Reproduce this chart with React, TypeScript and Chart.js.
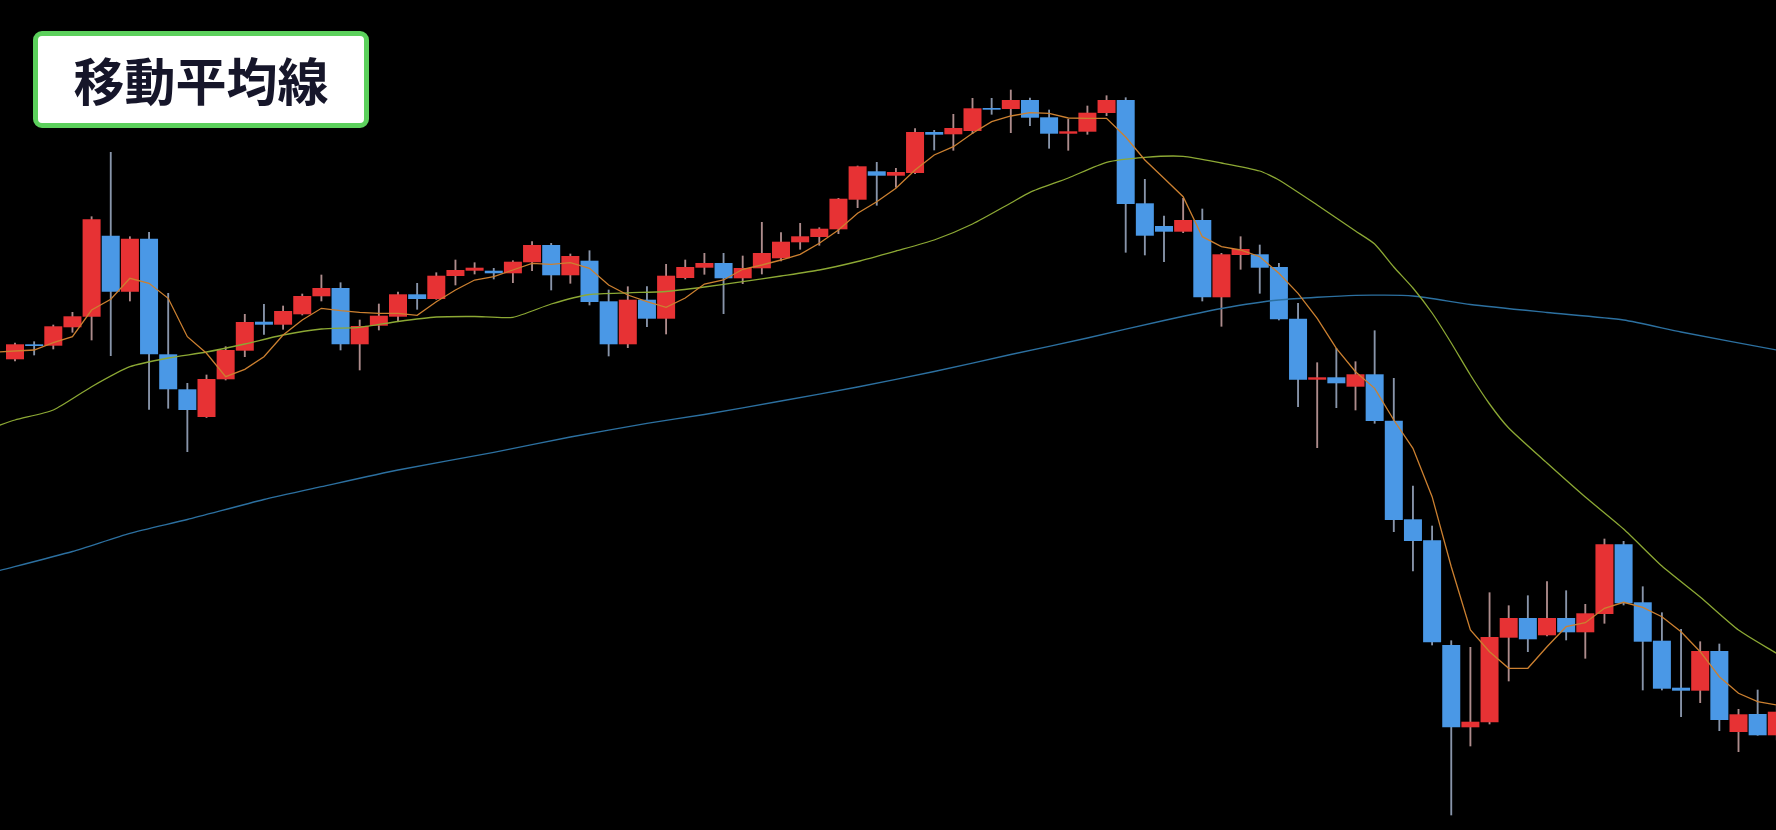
import React, { useEffect, useRef } from "react";
import { Chart, registerables } from "chart.js";

Chart.register(...registerables);

// ---- candle data (index 0..92) ----
const opens = [
  470.7, 485.7, 484.3, 502.7, 513.3, 594.3, 538.3, 591.3, 475.7, 440.7,
  413, 450.7, 479.3, 508.3, 505.3, 515.7, 533.7, 542, 485.7, 504.3,
  513.3, 535.7, 531, 554, 559.3, 559.3, 556.7, 567.7, 585, 554.7,
  569.3, 528.7, 485.7, 530.3, 511.3, 552, 562.3, 567, 551.7, 561.7,
  571.7, 587.7, 593, 600.7, 630.3, 658.7, 654.3, 657, 698, 695.7,
  699, 722, 721, 730, 712.7, 696.3, 698.3, 717, 730, 626.7,
  604, 598.3, 610, 532.7, 575, 575.7, 563, 511.3, 450.3, 452.7,
  443.3, 455.7, 409.3, 310.7, 289.7, 185, 102.7, 107.7, 192.3, 212,
  194.7, 212, 197.7, 216, 285.7, 227.7, 189.3, 142.3, 139.3, 179,
  98, 116, 94.7,
];
const highs = [
  487, 488.3, 505, 517.7, 613.3, 677.7, 593.3, 597.7, 536.7, 446.7,
  455, 483.3, 515.7, 525.7, 524, 536, 555, 547.3, 510, 526,
  538, 546.7, 557.3, 570, 567.3, 561.7, 569.3, 588.3, 586.7, 576,
  579.3, 540, 543.3, 543.3, 565.7, 570, 576.7, 576.7, 574, 607.7,
  597.3, 606.7, 602.3, 631.7, 664, 667.7, 661.7, 701.3, 699.7, 715.7,
  731.7, 731.7, 740, 732, 720, 710.7, 724, 734.3, 732.3, 650.7,
  614, 631.7, 621, 576.7, 593.3, 585, 566.7, 526.7, 467.3, 481.7,
  468.3, 499.3, 451.7, 344, 304, 189.3, 182.7, 237.3, 224.3, 234.3,
  248.3, 239.3, 225.7, 291, 288.7, 243.3, 217.3, 200.7, 188.3, 186,
  120.7, 140, 124,
];
const lows = [
  469, 475, 481, 497.7, 490, 474.3, 529, 420.7, 421.7, 378.3,
  412.5, 450, 473.3, 495.7, 500.7, 515, 529, 480, 460, 500,
  508.3, 520.7, 530.7, 545, 556, 551, 547.3, 559.3, 540, 546.7,
  525, 474, 482.3, 503.3, 496, 551, 555.7, 516.3, 546.3, 556,
  569, 580.7, 584.7, 596.3, 622.3, 624.7, 642.7, 656.3, 680, 679.7,
  696.3, 715.7, 697.3, 704.3, 681.7, 679.7, 695.7, 714.3, 577.7, 575,
  568.3, 597.3, 529, 503.7, 560.7, 536.7, 510, 423.3, 382.3, 422.3,
  420, 406.7, 298.3, 259, 185, 15, 84, 106, 149, 178.3,
  194, 190, 171.7, 206.7, 225, 140, 140, 113.3, 127.3, 99.3,
  78.3, 94.7, 90,
];
const closes = [
  485.7, 484, 503.7, 513.7, 610.7, 538.3, 591.3, 475.7, 440.7, 420,
  451, 480, 508, 505.3, 519, 534, 542, 485.7, 504, 514.3,
  535.7, 531, 554.3, 560, 562.3, 556.7, 568.3, 585, 554.7, 574,
  528, 485.7, 530.3, 511.3, 554.3, 563, 567, 551.7, 562, 577,
  588.3, 593.7, 601.3, 631.3, 663.7, 654.3, 658, 698, 695.3, 702,
  721.7, 720.3, 730, 712.3, 696.3, 698.7, 717.3, 730, 626, 594.3,
  598.3, 610, 532.7, 575.7, 581, 562.3, 510.7, 450.3, 452.7, 446.7,
  455.7, 409, 310, 289, 187.7, 102.7, 108.3, 193, 212, 190.7,
  212, 197.7, 216.7, 285.7, 226.7, 188.3, 141.3, 139.3, 179, 110,
  115.7, 94.7, 118.3,
];

// ---- short moving average (index -1..92) ----
const maShortIdx = [
  -1, 0, 1, 2, 3, 4, 5, 6, 7, 8, 9, 10, 11, 12, 13, 14, 15, 16, 17, 18, 19,
  20, 21, 22, 23, 24, 25, 26, 27, 28, 29, 30, 31, 32, 33, 34, 35, 36, 37, 38,
  39, 40, 41, 42, 43, 44, 45, 46, 47, 48, 49, 50, 51, 52, 53, 54, 55, 56, 57,
  58, 59, 60, 61, 62, 63, 64, 65, 66, 67, 68, 69, 70, 71, 72, 73, 74, 75, 76,
  77, 78, 79, 80, 81, 82, 83, 84, 85, 86, 87, 88, 89, 90, 91, 92,
];
const maShort = [
  478, 479, 480, 487.3, 493.3, 520, 530.7, 551.7, 546.7, 531.7, 493.3, 476.7,
  453.3, 460.7, 473.3, 495, 510, 521.7, 519.3, 517.7, 516.7, 516.7, 514.7,
  528.3, 540, 550, 553.3, 560, 566.7, 565.7, 567.3, 561.7, 545, 535, 528.3,
  522.7, 532, 546, 550, 560.7, 565, 570, 575.7, 586.7, 600, 616.7, 628.3,
  641.7, 660, 675, 683.3, 696.7, 708.3, 714, 717.3, 716.7, 712, 711.7, 711.7,
  693, 670, 651.7, 633.3, 593.3, 583.3, 580, 573.3, 556.7, 536.7, 511.7,
  481.7, 458.3, 441.7, 410, 381.7, 333.3, 263.3, 200, 178.3, 161.7, 161.7,
  183.3, 203.3, 207.3, 221.7, 227.7, 222.7, 213.3, 198.3, 178.3, 153.3,
  136.7, 128.3, 125,
];

// ---- medium moving average (sampled) ----
const maMidIdx = [
  -1, 0, 2, 4, 6, 8, 10, 12, 14, 16, 18, 20, 22, 24, 26, 28, 30, 32, 34, 36,
  38, 40, 42, 44, 46, 48, 50, 52, 53, 55, 57, 59, 61, 63, 65, 66, 68, 70, 71,
  72, 73, 74, 75, 76, 77, 78, 80, 82, 84, 86, 88, 90, 92,
];
const maMid = [
  403.5, 410, 420, 443.3, 463.3, 472, 478, 486, 495, 501, 502.7, 508.5, 513,
  513.5, 512.7, 526, 535.5, 537.2, 538.5, 543, 548.3, 554, 560, 568.5, 579,
  590, 606, 627, 637.7, 652, 667.7, 672.7, 673.7, 667, 659, 650, 625, 599,
  586, 563, 542, 517, 487, 455, 426, 402, 367, 333, 301, 264, 233, 200, 176.5,
];

// ---- long moving average (sampled) ----
const maLongIdx = [
  -1, 3, 6, 9, 13, 16, 20, 25, 29, 33, 36, 40, 44, 48, 52, 56, 60, 63, 66,
  70, 73, 76, 80, 84, 87, 92,
];
const maLong = [
  258.5, 278.5, 296.7, 310.5, 330.5, 343.3, 360, 377.7, 393, 406.7, 415.5,
  429, 443, 458.5, 475.5, 492, 509.5, 521.5, 530, 534.7, 534, 525.5, 517.5,
  510, 498, 480,
];

const TITLE = "移動平均線";

const UP = "rgb(231, 50, 52)";
const DOWN = "rgb(74, 152, 230)";
const WICK_UP = "rgba(205, 165, 165, 0.85)";
const WICK_DOWN = "rgba(160, 175, 200, 0.85)";

export default function App() {
  const ref = useRef<HTMLCanvasElement | null>(null);

  useEffect(() => {
    document.body.style.margin = "0";
    document.body.style.background = "#000";
    const canvas = ref.current;
    if (!canvas) return;

    const up = closes.map((c, i) => c >= opens[i]);
    const bodies = opens.map((o, i) => ({ x: i, y: [o, closes[i]] }));
    const wicks = lows.map((l, i) => ({ x: i, y: [l, highs[i]] }));
    const toXY = (xs: number[], ys: number[]) =>
      xs.map((x, i) => ({ x, y: ys[i] }));

    const chart = new Chart(canvas, {
      type: "bar",
      data: {
        datasets: [
          {
            type: "line",
            data: toXY(maShortIdx, maShort),
            borderColor: "rgb(204, 128, 48)",
            borderWidth: 1.3,
            pointRadius: 0,
            tension: 0,
            order: 0,
          } as any,
          {
            type: "line",
            data: toXY(maMidIdx, maMid),
            borderColor: "rgb(140, 168, 52)",
            borderWidth: 1.3,
            pointRadius: 0,
            tension: 0.2,
            order: 0,
          } as any,
          {
            type: "line",
            data: toXY(maLongIdx, maLong),
            borderColor: "rgb(44, 112, 160)",
            borderWidth: 1.3,
            pointRadius: 0,
            tension: 0.2,
            order: 0,
          } as any,
          {
            type: "bar",
            data: bodies as any,
            backgroundColor: up.map((u) => (u ? UP : DOWN)),
            borderWidth: 0,
            barPercentage: 0.94,
            categoryPercentage: 1,
            grouped: false,
            order: 1,
          } as any,
          {
            type: "bar",
            data: wicks as any,
            backgroundColor: up.map((u) => (u ? WICK_UP : WICK_DOWN)),
            borderWidth: 0,
            barThickness: 1.2,
            grouped: false,
            order: 2,
          } as any,
        ],
      },
      options: {
        responsive: false,
        animation: false,
        maintainAspectRatio: false,
        devicePixelRatio: 1,
        layout: { padding: 0 },
        plugins: {
          legend: { display: false },
          tooltip: { enabled: false },
          title: { display: false },
        },
        scales: {
          x: {
            type: "linear",
            display: false,
            min: -15 / 19.15,
            max: (1776 - 15) / 19.15,
            offset: false,
          },
          y: {
            type: "linear",
            display: false,
            min: 0,
            max: 830,
          },
        },
      },
    });

    return () => chart.destroy();
  }, []);

  return (
    <div
      style={{
        position: "relative",
        width: 1776,
        height: 830,
        background: "#000",
        overflow: "hidden",
      }}
    >
      <canvas
        ref={ref}
        width={1776}
        height={830}
        style={{ position: "absolute", left: 0, top: 0, width: 1776, height: 830 }}
      />
      <div
        style={{
          position: "absolute",
          left: 33,
          top: 31,
          width: 336,
          height: 97,
          boxSizing: "border-box",
          border: "5px solid rgb(92, 208, 92)",
          borderRadius: 9,
          background: "#fff",
          display: "flex",
          alignItems: "center",
          justifyContent: "center",
          fontFamily: '"Noto Sans CJK JP", "Noto Sans", sans-serif',
          fontWeight: 700,
          fontSize: 51,
          color: "#16162a",
          lineHeight: 1,
          letterSpacing: 0,
        }}
      >
        {TITLE}
      </div>
    </div>
  );
}
